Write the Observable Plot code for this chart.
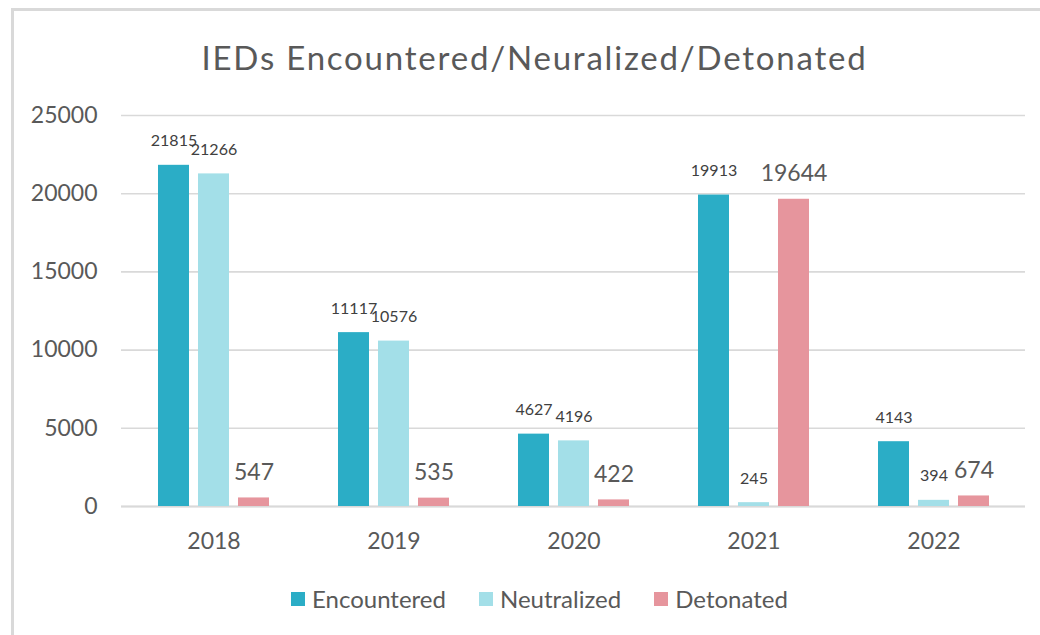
<!DOCTYPE html>
<html>
<head>
<meta charset="utf-8">
<script src="https://cdn.jsdelivr.net/npm/d3@7"></script>
<script src="https://cdn.jsdelivr.net/npm/@observablehq/plot@0.6"></script>
<style>
  html, body { margin: 0; padding: 0; background: #fff; }
  body { width: 1040px; height: 635px; position: relative; overflow: hidden; font-family: Lato, "Open Sans", sans-serif; }
  #frame { position: absolute; left: 11px; top: 8px; width: 1100px; height: 700px; border-left: 3px solid #d9d9d9; border-top: 3px solid #d9d9d9; box-sizing: border-box; }
  #title { position: absolute; left: 0; width: 1069px; top: 37px; text-align: center; font-size: 33px; letter-spacing: 1.8px; color: #595959; line-height: 40px; white-space: nowrap; }
  #chart { position: absolute; left: 0; top: 0; }
  #legend { position: absolute; left: 291px; top: 584px; display: flex; gap: 33px; font-size: 24px; color: #595959; line-height: 30px; }
  #legend .item { display: flex; align-items: center; gap: 7px; }
  #legend .sw { width: 14px; height: 14px; display: inline-block; }
</style>
</head>
<body>
<div id="frame"></div>
<div id="title">IEDs Encountered/Neuralized/Detonated</div>
<div id="chart"></div>
<div id="legend"></div>
<script>
const years = ["2018", "2019", "2020", "2021", "2022"];
const seriesNames = ["Encountered", "Neutralized", "Detonated"];
const colors = ["#2BADC6", "#A3DFE8", "#E6959D"];
const encountered = [21815, 11117, 4627, 19913, 4143];
const neutralized = [21266, 10576, 4196, 245, 394];
const detonated = [547, 535, 422, 19644, 674];
const yTicks = [0, 5000, 10000, 15000, 20000, 25000];

const seriesValues = [encountered, neutralized, detonated];
const seriesData = seriesNames.map((s, j) =>
  years.map((yr, i) => ({year: yr, series: s, value: seriesValues[j][i]}))
);
const offsets = [-40, 0, 40];

const marks = [
  Plot.gridY(yTicks, {stroke: "#d9d9d9", strokeOpacity: 1, strokeWidth: 1.6}),
  Plot.axisY(yTicks, {tickSize: 0, tickPadding: 24, fontSize: 23, fill: "#595959", tickFormat: d => String(d), label: null}),
  Plot.axisX({anchor: "bottom", tickSize: 0, tickPadding: 26, fontSize: 23, fill: "#595959", label: null}),
  Plot.ruleY([0], {stroke: "#d9d9d9", strokeWidth: 2})
];
seriesData.forEach((arr, j) => {
  marks.push(Plot.barY(arr, {x: "year", y: "value", fill: "series", dx: offsets[j]}));
});
seriesData.forEach((arr, j) => {
  const big = seriesNames[j] === "Detonated";
  marks.push(Plot.text(arr, {
    x: "year", y: "value", text: d => String(d.value), dx: offsets[j],
    lineAnchor: "bottom", dy: big ? -18 : -19,
    fontSize: big ? 23 : 16, fill: big ? "#595959" : "#404040"
  }));
});

const chart = Plot.plot({
  width: 1040,
  height: 635,
  marginTop: 115,
  marginBottom: 129,
  marginLeft: 121,
  marginRight: 15,
  style: {fontFamily: "Lato, 'Open Sans', sans-serif", background: "transparent", overflow: "visible"},
  x: {domain: years, paddingInner: 0.8285, paddingOuter: 0.414, label: null},
  y: {domain: [0, 25000], ticks: yTicks, label: null},
  color: {domain: seriesNames, range: colors},
  marks
});
document.getElementById("chart").appendChild(chart);

const legend = document.getElementById("legend");
seriesNames.forEach((s, i) => {
  const item = document.createElement("div");
  item.className = "item";
  const sw = document.createElement("span");
  sw.className = "sw";
  sw.style.background = colors[i];
  const t = document.createElement("span");
  t.textContent = s;
  item.appendChild(sw);
  item.appendChild(t);
  legend.appendChild(item);
});
</script>
</body>
</html>
